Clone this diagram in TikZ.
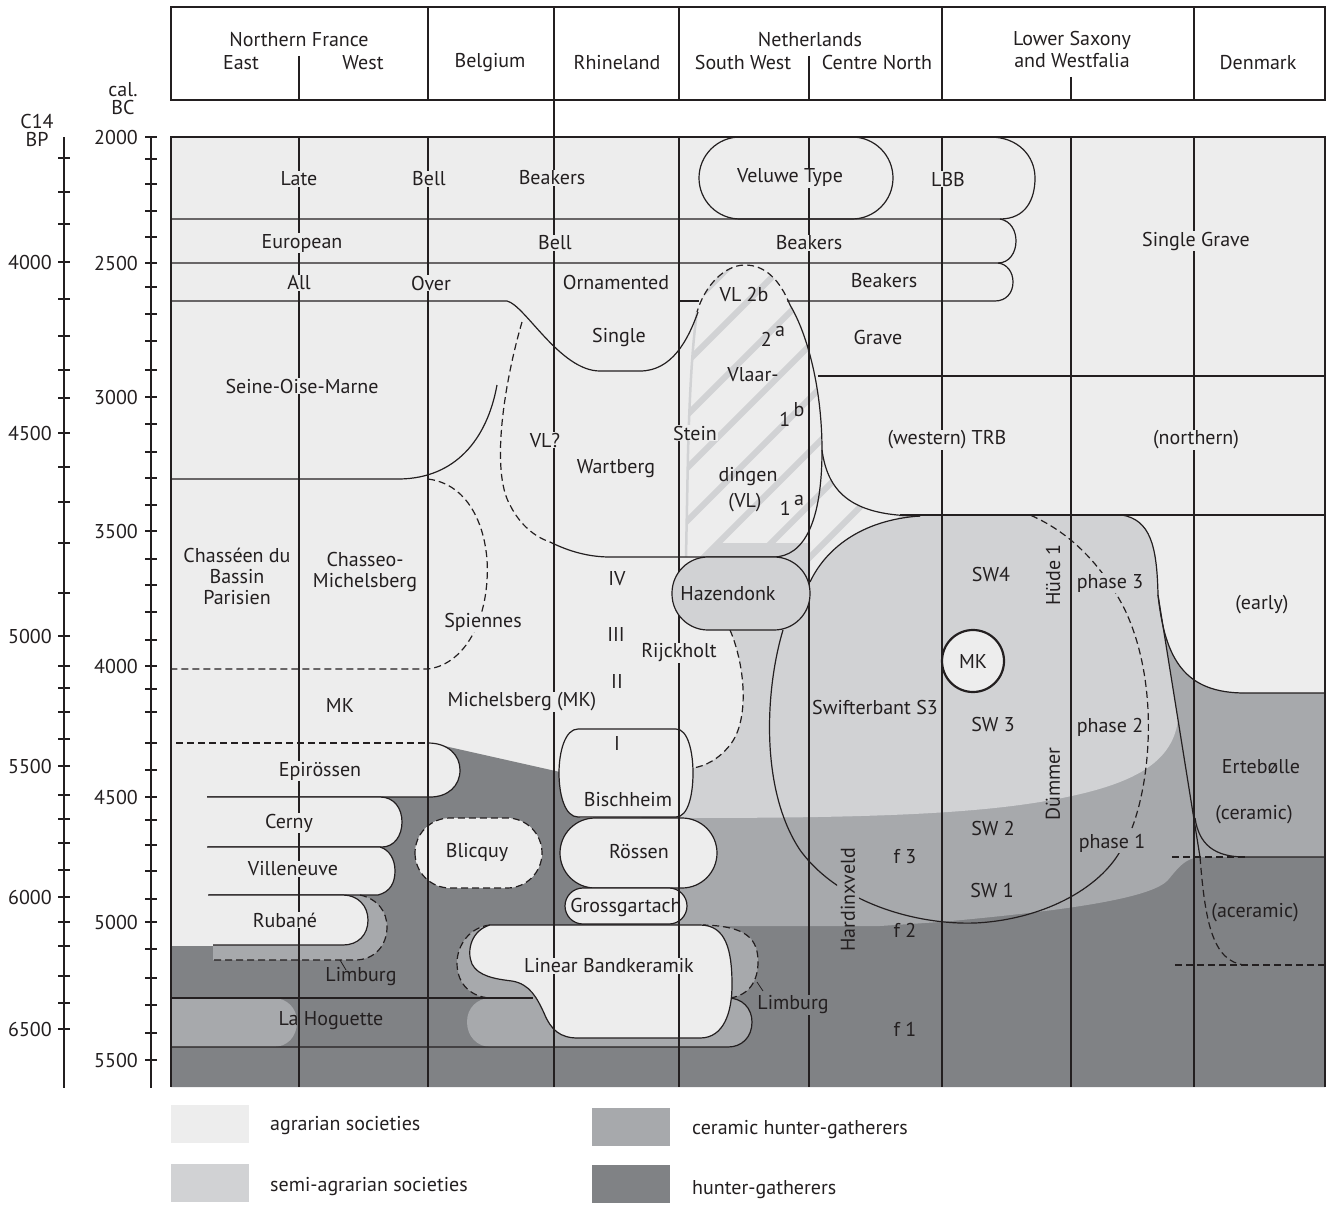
\documentclass[tikz,border=0pt]{standalone}
\usepackage{fontspec}
\setmainfont{PT Sans}
\definecolor{ink}{HTML}{231F20}
\definecolor{agr}{HTML}{EDEDED}
\definecolor{semi}{HTML}{D1D2D4}
\definecolor{cera}{HTML}{A7A9AC}
\definecolor{hunt}{HTML}{808285}
\newcommand{\lblfont}{\fontsize{20}{21}\selectfont}
\newcommand{\up}[1]{\,\raisebox{.5em}{#1}}

\begin{document}
\begin{tikzpicture}[%
	x=1pt, y=-1pt,              % one unit per pixel, y going down
	every node/.style={font=\lblfont, text=ink, inner sep=1pt},
	]
	% -------------------------------------------------
	% Line and fill styles
	\tikzset{
		ln/.style={draw=ink, line width=1.2pt},
		dln/.style={ln, dash pattern=on 7pt off 4pt},
		frame/.style={draw=ink, line width=2pt},
		axisln/.style={draw=ink, line width=1.8pt},
		lightshape/.style={ln, fill=agr},
		stripe/.style={draw=semi, line width=6pt},
		% labels that cut the column lines
		onagr/.style={fill=agr},
		onsemi/.style={fill=semi},
		oncera/.style={fill=cera},
		onhunt/.style={fill=hunt},
		legbox/.style={minimum width=78pt, minimum height=38pt, inner sep=0pt},
	}
	\useasboundingbox (0,0) rectangle (1327,1204);

	% -------------------------------------------------
	% Background areas
	\path[fill=agr] (171,137) rectangle (1325,1087);
	% hunter-gatherers
	\path[fill=hunt] (171,1087) -- (171,946) -- (216,946) -- (216,797) -- (430,797) -- (440,745)
		-- (560,772) -- (580,772) -- (580,818) -- (1325,818) -- (1325,1087) -- cycle;
	% ceramic hunter-gatherers
	\path[fill=cera] (640,926) -- (640,818) -- (1100,650) -- (1158,595)
		.. controls (1165,660) and (1185,693) .. (1245,693) -- (1325,693) -- (1325,857) -- (1200,857)
		.. controls (1185,858) and (1178,868) .. (1168,880) .. controls (1150,900) and (1050,912) .. (940,922)
		-- (880,926) -- cycle;
	\path[fill=cera] (213,940) -- (213,960) -- (355,960) .. controls (375,960) and (387,945) .. (387,927)
		.. controls (387,912) and (378,899) .. (360,895) -- (343,895) -- cycle;
	\path[fill=cera] (171,998) -- (273,998) .. controls (287,998) and (297,1008) .. (297,1022)
		.. controls (297,1037) and (287,1047) .. (273,1047) -- (171,1047) -- cycle;
	\path[fill=cera] (491,998) -- (728,998) .. controls (742,998) and (752,1008) .. (752,1022)
		.. controls (752,1037) and (742,1047) .. (728,1047) -- (491,1047)
		.. controls (477,1047) and (467,1036) .. (467,1022) .. controls (467,1008) and (477,998) .. (491,998) -- cycle;
	\path[fill=cera] (490,925) .. controls (470,927) and (457,945) .. (457,963) .. controls (457,985) and (472,997) .. (490,998)
		-- (730,998) .. controls (750,995) and (758,980) .. (758,962) .. controls (758,940) and (748,926) .. (703,925) -- cycle;

	% Vlaardingen hatching
	\begin{scope}
		\clip (697,312) .. controls (705,285) and (725,265) .. (745,265) .. controls (765,265) and (780,280) .. (790,305)
			.. controls (808,335) and (822,390) .. (822,450) .. controls (828,495) and (855,516) .. (920,516)
			.. controls (860,520) and (825,550) .. (810,582) -- (810,557) -- (686,557) -- (688,453)
			.. controls (690,380) and (693,340) .. (697,312) -- cycle;
		\foreach \c in {943,996,...,1473}
			\draw[stripe] (\c-700,700) -- (\c-200,200);
	\end{scope}
	\draw[semi, line width=2.5pt] (697,312) .. controls (693,340) and (690,380) .. (688,453) -- (686,557);

	% semi-agrarian
	\path[fill=semi] (720,543) -- (810,543) -- (810,582) .. controls (825,550) and (860,520) .. (920,516)
		-- (1122,515) .. controls (1150,520) and (1157,545) .. (1158,595) -- (1178,720)
		.. controls (1172,765) and (1130,787) .. (1040,802) .. controls (960,815) and (850,818) .. (680,818)
		-- (680,768) -- (693,768) .. controls (705,766) and (718,760) .. (730,745)
		.. controls (750,720) and (745,665) .. (730,630) -- (700,557) -- cycle;

	% -------------------------------------------------
	% Agrarian groups
	\path[fill=agr] (171,743) -- (428,743) .. controls (448,743) and (460,755) .. (460,770)
		.. controls (460,786) and (448,797) .. (430,797) -- (171,797) -- cycle;
	\draw[ln] (428,743) .. controls (448,743) and (460,755) .. (460,770)
		.. controls (460,786) and (448,797) .. (430,797) -- (207,797);
	\draw[dln] (176,743) -- (428,743);
	\path[lightshape] (207,797) -- (380,797) .. controls (394,797) and (402,808) .. (402,822)
		.. controls (402,836) and (394,847) .. (382,847) -- (207,847);
	\path[lightshape] (208,847) -- (380,847) .. controls (390,850) and (395,860) .. (395,871)
		.. controls (395,883) and (390,892) .. (378,895) -- (208,895);
	\path[fill=agr] (209,895) -- (209,945) -- (213,945) -- (213,895) -- cycle;
	\path[lightshape] (209,895) -- (343,895) .. controls (358,895) and (368,906) .. (368,920)
		.. controls (368,935) and (358,945) .. (343,945) -- (213,945);
	\draw[dln] (360,895) .. controls (378,899) and (387,912) .. (387,927)
		.. controls (387,945) and (375,960) .. (355,960) -- (213,960);
	\draw[ln, line width=0.8pt] (340,960) -- (346,970);

	\draw[dln, fill=agr, rounded corners=35pt] (415,818) rectangle (542,888);
	\draw[lightshape] (578,729) -- (676,729) .. controls (688,729) and (693,752) .. (693,773)
		.. controls (693,795) and (688,817) .. (676,817) -- (578,817)
		.. controls (565,817) and (559,795) .. (559,773) .. controls (559,752) and (565,729) .. (578,729) -- cycle;
	\draw[lightshape, rounded corners=35pt] (560,818) rectangle (717,888);
	\draw[lightshape, rounded corners=18pt] (565,888) rectangle (687,924);

	\draw[dln] (490,925) .. controls (470,927) and (457,945) .. (457,963) .. controls (457,985) and (472,997) .. (490,998);
	\draw[dln] (730,998) .. controls (750,995) and (758,980) .. (758,962) .. controls (758,940) and (748,926) .. (703,925);
	\draw[ln] (171,998) -- (533,998);
	\draw[ln] (171,1047) -- (728,1047) .. controls (742,1047) and (752,1037) .. (752,1022)
		.. controls (752,1008) and (742,998) .. (728,998);
	\draw[lightshape] (490,925) .. controls (472,930) and (466,950) .. (472,964) .. controls (478,976) and (495,979) .. (512,981)
		.. controls (530,984) and (537,998) .. (544,1013) .. controls (551,1030) and (560,1038) .. (578,1038)
		-- (700,1038) .. controls (724,1038) and (732,1012) .. (732,985) .. controls (732,950) and (726,925) .. (700,925) -- cycle;
	\draw[ln, line width=0.8pt] (757,982) -- (763,991);

	% -------------------------------------------------
	% Beaker rows
	\draw[ln] (171,219) -- (1000,219) .. controls (1026,219) and (1035,199) .. (1035,178)
		.. controls (1035,156) and (1018,137) .. (990,137);
	\draw[ln] (1000,219) .. controls (1011,221) and (1016,231) .. (1016,241)
		.. controls (1016,253) and (1009,263) .. (998,263) -- (171,263);
	\draw[ln] (998,263) .. controls (1007,264) and (1013,272) .. (1013,282)
		.. controls (1013,293) and (1006,301) .. (995,301) -- (787,301);
	\draw[ln] (679,301) -- (699,301);
	\draw[ln] (171,301) -- (507,301) .. controls (525,305) and (560,371) .. (600,371) -- (640,371)
		.. controls (672,371) and (688,340) .. (698,312);
	\draw[ln, rounded corners=41pt] (699,137) rectangle (893,219);

	% Neolithic boundaries
	\draw[ln] (818,376) -- (1325,376);
	\draw[ln] (900,515) -- (1325,515);
	\draw[ln] (822,450) .. controls (828,495) and (855,516) .. (920,516);
	\draw[ln] (171,479) -- (400,479) .. controls (455,478) and (487,440) .. (497,385);
	\draw[dln] (428,479) .. controls (475,485) and (490,540) .. (487,580)
		.. controls (484,630) and (460,665) .. (428,669) -- (171,669);
	\draw[dln] (522,322) .. controls (505,380) and (490,470) .. (510,505) .. controls (520,525) and (535,537) .. (550,542);
	\draw[ln] (550,542) .. controls (570,552) and (590,557) .. (610,557) -- (773,557)
		.. controls (805,557) and (822,520) .. (822,450) .. controls (822,390) and (808,335) .. (790,305);
	\draw[dln] (790,305) .. controls (780,280) and (765,265) .. (745,265) .. controls (725,265) and (705,285) .. (697,312);
	\draw[dln] (730,630) .. controls (745,665) and (750,720) .. (730,745) .. controls (718,760) and (705,766) .. (693,768);

	% Swifterbant, Duemmer, Ertebolle
	\draw[ln] (810,582) .. controls (825,550) and (860,520) .. (920,516);
	\draw[ln] (1122,515) .. controls (1150,520) and (1157,545) .. (1158,595) -- (1200,857);
	\draw[ln] (1158,595) .. controls (1165,660) and (1185,693) .. (1245,693) -- (1325,693);
	\draw[ln] (1195,818) .. controls (1199,845) and (1215,857) .. (1245,857) -- (1325,857);
	\draw[dln] (1172,857) -- (1245,857);
	\draw[dln] (1200,857) .. controls (1205,920) and (1212,962) .. (1245,965);
	\draw[dln] (1175,965) -- (1325,965);
	\begin{scope}[even odd rule]
		% leave the gap where Hardinxveld is written
		\clip (0,0) rectangle (1327,1204) (837,860) rectangle (859,940);
		\draw[ln] (783,630) .. controls (765,690) and (760,790) .. (800,850) .. controls (840,905) and (920,925) .. (975,923)
			.. controls (1040,920) and (1100,890) .. (1122,848);
	\end{scope}
	\draw[dln] (1132,828) .. controls (1152,775) and (1158,680) .. (1125,610) .. controls (1100,560) and (1065,530) .. (1030,515);

	% column lines
	\foreach \cx in {299,428,554,679,809,942,1071,1194}
		\draw[ln] (\cx,137) -- (\cx,1087);

	\draw[ln, fill=semi, rounded corners=36pt] (672,557) rectangle (810,630);
	\node[draw=ink, line width=2.2pt, fill=agr, circle, minimum size=62pt] (mkc) at (973,661) {MK};

	% -------------------------------------------------
	% Frames and time scales
	\draw[frame] (171,1087) -- (171,137) -- (1325,137) -- (1325,1087);
	\draw[frame, fill=white] (171,7) rectangle (1325,100);
	\foreach \cx in {428,554,679,942,1194}
		\draw[ln] (\cx,7) -- (\cx,100);
	\draw[ln] (299,56) -- (299,100);
	\draw[ln] (809,56) -- (809,100);
	\draw[ln] (1071,77) -- (1071,100);
	\draw[ln] (554,100) -- (554,137);

	\draw[axisln] (64,137) -- (64,1088);
	\draw[axisln] (151,137) -- (151,1088);
	\foreach \t in {158,192,224,262,299,336,370,398,433,467,502,543,593,636,666,688,712,739,766,795,819,843,870,897,922,946,976,1003,1029}
		\draw[axisln] (58,\t) -- (70,\t);
	\foreach \t in {137,159,184,211,237,263,287,314,341,370,397,424,452,478,505,531,559,585,612,640,666,689,712,743,770,797,820,845,871,899,922,949,978,1005,1033,1060}
		\draw[axisln] (145,\t) -- (157,\t);
	\foreach \t/\v in {262/4000,433/4500,636/5000,766/5500,897/6000,1029/6500}
		\node[anchor=east] (bp\v) at (53,\t) {\v};
	\foreach \t/\v in {137/2000,263/2500,397/3000,531/3500,666/4000,797/4500,922/5000,1060/5500}
		\node[anchor=east] (bc\v) at (139,\t) {\v};
	\node[align=center] (bphead) at (37,130) {C14\\[-3pt]BP};
	\node[align=center] (bchead) at (123,99) {cal.\\[-3pt]BC};

	% -------------------------------------------------
	% Header
	\node (hfr) at (299,40) {Northern France};
	\node (hfre) at (241,63) {East};
	\node (hfrw) at (363,63) {West};
	\node (hbe) at (490,63) {Belgium};
	\node (hrh) at (617,63) {Rhineland};
	\node (hnl) at (810,40) {Netherlands};
	\node (hnlsw) at (743,63) {South West};
	\node (hnlcn) at (877,63) {Centre North};
	\node (hls) at (1072,40) {Lower Saxony};
	\node (hlsw) at (1072,61) {and Westfalia};
	\node (hdk) at (1258,63) {Denmark};

	% -------------------------------------------------
	% Cultures
	\node[onagr] (late) at (299,179) {Late};
	\node[onagr] (bell1) at (429,179) {Bell};
	\node[onagr] (beak1) at (552,178) {Beakers};
	\node[onagr] (veluwe) at (790,178) {Veluwe Type};
	\node[onagr] (lbb) at (948,179) {LBB};
	\node[onagr] (europ) at (302,243) {European};
	\node[onagr] (bell2) at (555,243) {Bell};
	\node[onagr] (beak2) at (809,243) {Beakers};
	\node[onagr] (allo) at (299,283) {All};
	\node[onagr] (over) at (431,283) {Over};
	\node (orna) at (616,282) {Ornamented};
	\node (beak3) at (884,281) {Beakers};
	\node[onagr] (sgrave) at (1196,241) {Single Grave};
	\node (vl2b) at (744,294) {VL 2b};
	\node (single) at (619,337) {Single};
	\node (grave) at (878,337) {Grave};
	\node (vl2a) at (773,336) {2\up{a}};
	\node (vlaar) at (753,375) {Vlaar-};
	\node (vl1b) at (792,414) {1\up{b}};
	\node[onagr] (som) at (302,386) {Seine-Oise-Marne};
	\node[onagr] (vlq) at (545,440) {VL?};
	\node[onagr] (stein) at (695,433) {Stein};
	\node[onagr] (wtrb) at (947,440) {(western) TRB};
	\node[onagr] (ntrb) at (1196,440) {(northern)};
	\node (wart) at (616,469) {Wartberg};
	\node (dingen) at (748,477) {dingen};
	\node (vlvl) at (745,503) {(VL)};
	\node (vl1a) at (792,505) {1\up{a}};
	\node[align=center] (chbp) at (237,576) {Chasséen du\\Bassin\\Parisien};
	\node[align=center] (chmi) at (365,572) {Chasseo-\\Michelsberg};
	\node (mk4) at (617,579) {IV};
	\node (hazen) at (728,594) {Hazendonk};
	\node (sw4) at (991,574) {SW4};
	\node[rotate=90] (huede) at (1053,575) {Hüde 1};
	\node[onsemi] (ph3) at (1110,583) {phase 3};
	\node (early) at (1262,605) {(early)};
	\node[onagr] (spien) at (483,622) {Spiennes};
	\node (mk3) at (616,634) {III};
	\node[onagr] (rijck) at (679,653) {Rijckholt};
	\node (mk2) at (617,681) {II};
	\node[onagr] (mich) at (522,702) {Michelsberg (MK)};
	\node (mkfr) at (340,705) {MK};
	\node[onsemi] (swift) at (875,707) {Swifterbant S3};
	\node (sw3) at (993,724) {SW 3};
	\node[onsemi] (ph2) at (1110,727) {phase 2};
	\node[rotate=90] (duem) at (1053,784) {Dümmer};
	\node (erte) at (1261,767) {Ertebølle};
	\node[onagr] (epir) at (320,771) {Epirössen};
	\node (mk1) at (617,743) {I};
	\node (bisch) at (628,800) {Bischheim};
	\node[onagr] (cerny) at (289,823) {Cerny};
	\node (sw2) at (993,828) {SW 2};
	\node (ceram) at (1254,815) {(ceramic)};
	\node[oncera] (ph1) at (1112,843) {phase 1};
	\node (blic) at (477,852) {Blicquy};
	\node (roes) at (639,852) {Rössen};
	\node (f3) at (905,857) {f 3};
	\node[onagr] (villn) at (293,869) {Villeneuve};
	\node (sw1) at (992,890) {SW 1};
	\node[rotate=90] (hardx) at (848,900) {Hardinxveld};
	\node (gross) at (626,907) {Grossgartach};
	\node[onagr] (rubane) at (285,920) {Rubané};
	\node (acer) at (1255,913) {(aceramic)};
	\node (f2) at (905,930) {f 2};
	\node[onagr] (lbk) at (609,966) {Linear Bandkeramik};
	\node (limb1) at (361,977) {Limburg};
	\node[onhunt] (limb2) at (793,1005) {Limburg};
	\node (hoguet) at (331,1021) {La Hoguette};
	\node (f1) at (905,1029) {f 1};

	% -------------------------------------------------
	% Legend
	\node[legbox, fill=agr] (kagr) at (210,1124) {};
	\node[anchor=west] (tagr) at (269,1126) {agrarian societies};
	\node[legbox, fill=semi] (ksemi) at (210,1183) {};
	\node[anchor=west] (tsemi) at (269,1187) {semi-agrarian societies};
	\node[legbox, fill=cera] (kcera) at (631,1127) {};
	\node[anchor=west] (tcera) at (691,1130) {ceramic hunter-gatherers};
	\node[legbox, fill=hunt] (khunt) at (631,1184) {};
	\node[anchor=west] (thunt) at (691,1190) {hunter-gatherers};
\end{tikzpicture}
\end{document}
